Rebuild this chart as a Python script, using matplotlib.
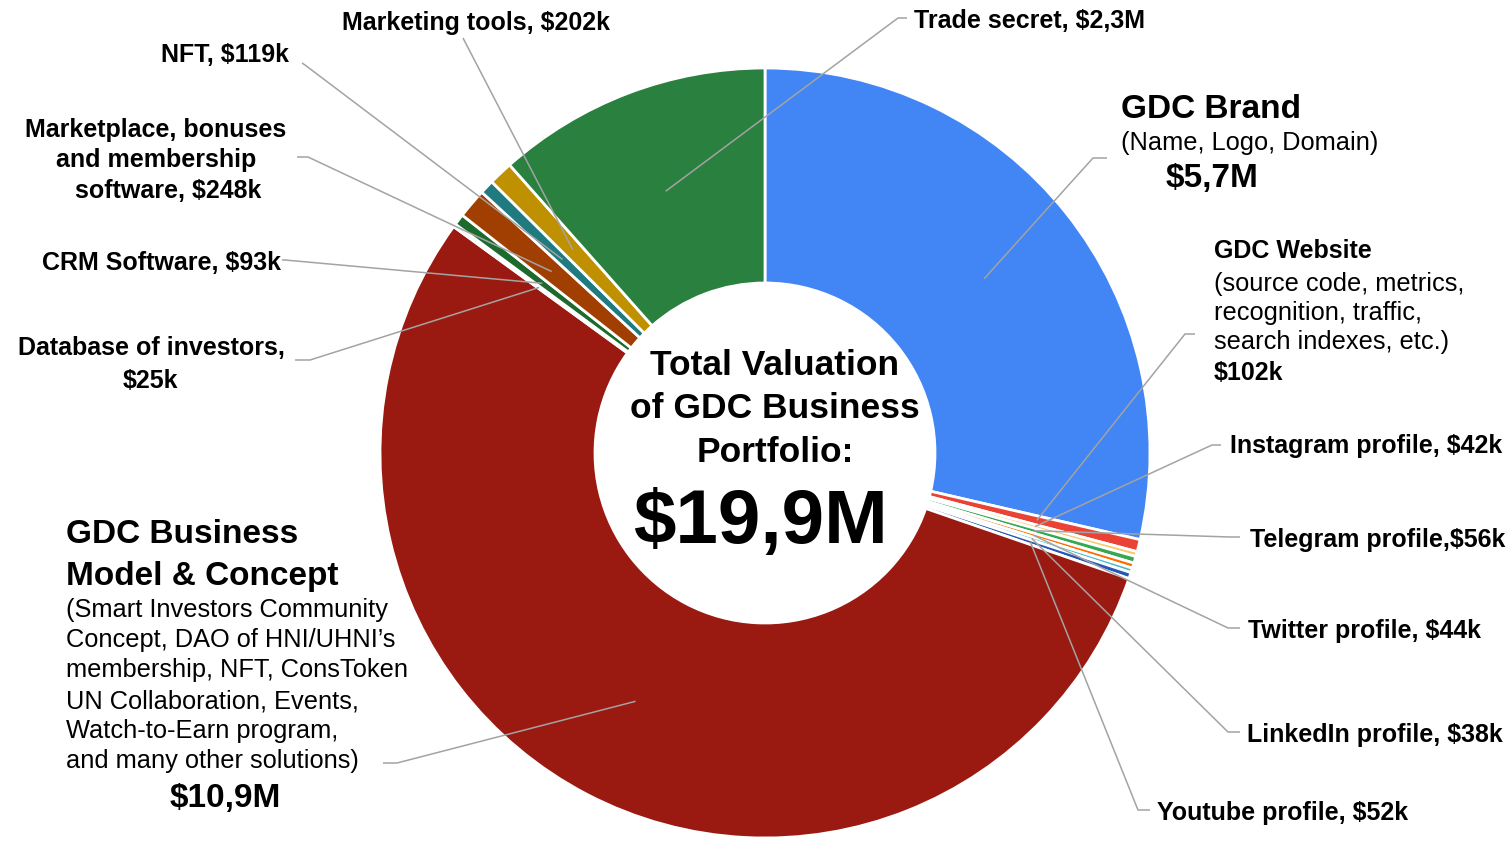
import numpy as np
import matplotlib
matplotlib.use('Agg')
import matplotlib.pyplot as plt

W, H = 1511, 843
FONT = ['Liberation Sans', 'DejaVu Sans']

# slices, clockwise from 12 o'clock, values in $k
names = ['GDC Brand', 'GDC Website', 'Instagram profile', 'Telegram profile',
         'Twitter profile', 'LinkedIn profile', 'Youtube profile',
         'GDC Business Model & Concept', 'Database of investors', 'CRM Software',
         'Marketplace, bonuses and membership software', 'NFT', 'Marketing tools',
         'Trade secret']
values = [5700, 102, 42, 56, 44, 38, 52, 10900, 25, 93, 248, 119, 202, 2300]
colors = ['#4285F4', '#EA4335', '#F7CB6B', '#34A853', '#FF6D01', '#46BDC6', '#2756B8',
          '#9A1A11', '#1C6B2D', '#1C6B2D', '#A13F02', '#1F7B80', '#BF9000', '#29803F']


def money(v):
    if v < 1000:
        return f'${v}k'
    return f'${v / 1000:.1f}M'.replace('.', ',')


total = sum(values)
m = [money(v) for v in values]

# ─────────────────────────────────────────────
# Label layout: (text, x, baseline y, size, weight, ha) in image pixels
# ─────────────────────────────────────────────
S = 18      # small bold labels
N = 18.3    # regular description text
labels = {
    0: [('GDC Brand', 1121, 118, 24, 'bold', 'left'),
        ('(Name, Logo, Domain)', 1121, 150, N, 'normal', 'left'),
        (m[0], 1212, 187, 24, 'bold', 'center')],
    1: [('GDC Website', 1214, 258, S, 'bold', 'left'),
        ('(source code, metrics,', 1214, 291, N, 'normal', 'left'),
        ('recognition, traffic,', 1214, 320, N, 'normal', 'left'),
        ('search indexes, etc.)', 1214, 349, N, 'normal', 'left'),
        (m[1], 1214, 380, S, 'bold', 'left')],
    2: [(f'{names[2]}, {m[2]}', 1230, 453, S, 'bold', 'left')],
    3: [(f'{names[3]},{m[3]}', 1250, 547, S, 'bold', 'left')],
    4: [(f'{names[4]}, {m[4]}', 1248, 638, S, 'bold', 'left')],
    5: [(f'{names[5]}, {m[5]}', 1247, 742, S, 'bold', 'left')],
    6: [(f'{names[6]}, {m[6]}', 1157, 820, S, 'bold', 'left')],
    7: [('GDC Business', 66, 543, 24, 'bold', 'left'),
        ('Model & Concept', 66, 585, 24, 'bold', 'left'),
        ('(Smart Investors Community', 66, 617, N, 'normal', 'left'),
        ('Concept, DAO of HNI/UHNI\u2019s', 66, 647, N, 'normal', 'left'),
        ('membership, NFT, ConsToken', 66, 677, N, 'normal', 'left'),
        ('UN Collaboration, Events,', 66, 708, N, 'normal', 'left'),
        ('Watch-to-Earn program,', 66, 738, N, 'normal', 'left'),
        ('and many other solutions)', 66, 768, N, 'normal', 'left'),
        (m[7], 225, 807, 24, 'bold', 'center')],
    8: [(f'{names[8]},', 151, 355, S, 'bold', 'center'),
        (m[8], 150, 388, S, 'bold', 'center')],
    9: [(f'{names[9]}, {m[9]}', 161, 270, S, 'bold', 'center')],
    10: [('Marketplace, bonuses', 156, 137, S, 'bold', 'center'),
         ('and membership', 156, 167, S, 'bold', 'center'),
         (f'software, {m[10]}', 168, 198, S, 'bold', 'center')],
    11: [(f'{names[11]}, {m[11]}', 225, 62, S, 'bold', 'center')],
    12: [(f'{names[12]}, {m[12]}', 476, 30, S, 'bold', 'center')],
    13: [(f'{names[13]}, {m[13]}', 1030, 28, S, 'bold', 'center')],
}

# leader line points after the anchor inside the wedge (image pixels)
leaders = {
    0: [(1093, 158), (1107, 158)],
    1: [(1185, 334), (1195, 334)],
    2: [(1212, 445), (1221, 445)],
    3: [(1230, 537), (1240, 537)],
    4: [(1228, 628), (1240, 628)],
    5: [(1228, 732), (1240, 732)],
    6: [(1138, 810), (1150, 810)],
    7: [(397, 763), (383, 763)],
    8: [(310, 360), (295, 360)],
    9: [(285, 260), (282, 260)],
    10: [(308, 157), (297, 157)],
    11: [(305, 65), (302, 63)],
    12: [(463, 38)],
    13: [(898, 18), (907, 18)],
}

CX, CY = 765, 453
R_OUT, R_IN, R_ANCHOR = 385, 170, 280

fig = plt.figure(figsize=(W / 100, H / 100), dpi=100)
ax = fig.add_axes([0, 0, 1, 1])

wedges, _ = ax.pie(values, colors=colors, startangle=90, counterclock=False,
                   radius=R_OUT, center=(CX, H - CY),
                   wedgeprops=dict(width=R_OUT - R_IN, edgecolor='white',
                                   linewidth=2.0))

# leader lines
for i, w in enumerate(wedges):
    mid = np.deg2rad((w.theta1 + w.theta2) / 2)
    ax_x = CX + R_ANCHOR * np.cos(mid)
    ax_y = (H - CY) + R_ANCHOR * np.sin(mid)
    xs = [ax_x] + [p[0] for p in leaders[i]]
    ys = [ax_y] + [H - p[1] for p in leaders[i]]
    ax.plot(xs, ys, color='#a3a3a3', lw=1.1, solid_capstyle='butt', zorder=3)

for i, lines in labels.items():
    for text, x, y, size, weight, ha in lines:
        ax.text(x, H - y, text, fontsize=size, fontweight=weight, ha=ha,
                va='baseline', family=FONT, color='black', zorder=4)

# centre text
centre = [('Total Valuation', 775, 375, 25.5),
          ('of GDC Business', 775, 418, 25.5),
          ('Portfolio:', 775, 462, 25.5),
          (money(total), 760, 543, 55)]
for text, x, y, size in centre:
    ax.text(x, H - y, text, fontsize=size, fontweight='bold', ha='center',
            va='baseline', family=FONT, color='black', zorder=4)

ax.set_xlim(0, W)
ax.set_ylim(0, H)
ax.set_aspect('auto')
ax.axis('off')

fig.savefig('out.png', dpi=100, facecolor='white')
